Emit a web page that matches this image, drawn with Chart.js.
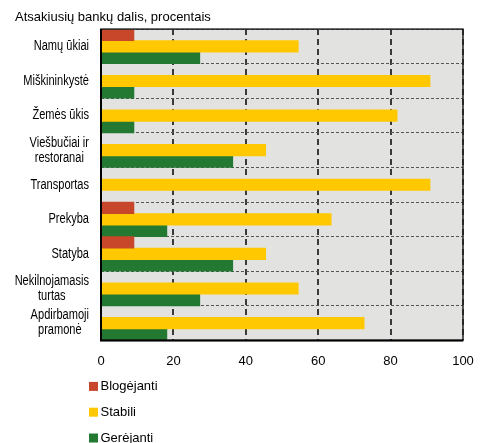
<!DOCTYPE html>
<html lang="lt">
<head>
<meta charset="utf-8">
<title>Atsakiusių bankų dalis</title>
<script src="https://cdn.jsdelivr.net/npm/chart.js@4"></script>
<style>
    html, body { margin: 0; padding: 0; background: #fff; }
    #wrap { width: 482px; height: 443px; }
</style>
</head>
<body>
<div id="wrap"><canvas id="sector-chart" width="482" height="443"></canvas></div>
<script>
// Sectors, top to bottom
const sectors = [
    'Namų ūkiai',
    'Miškininkystė',
    'Žemės ūkis',
    ['Viešbučiai ir', 'restoranai'],
    'Transportas',
    'Prekyba',
    'Statyba',
    ['Nekilnojamasis', 'turtas'],
    ['Apdirbamoji', 'pramonė']
];

// Share of responding banks, %
const worsening = [9.1, 0, 0, 0, 0, 9.1, 9.1, 0, 0];
const stable = [54.5, 90.9, 81.8, 45.5, 90.9, 63.6, 45.5, 54.5, 72.7];
const improving = [27.3, 9.1, 9.1, 36.4, 0, 18.2, 36.4, 27.3, 18.2];

const xTicks = [0, 20, 40, 60, 80, 100];

const FONT = "'Liberation Sans', Arial, sans-serif";

// Grey plot background
const plotBackground = {
    id: 'plotBackground',
    beforeDraw(chart) {
        const {ctx, chartArea: a} = chart;
        ctx.save();
        ctx.fillStyle = '#e2e3e1';
        ctx.fillRect(a.left, a.top, a.width, a.height);
        ctx.restore();
    }
};

// Frame around the plot area
const plotFrame = {
    id: 'plotFrame',
    afterDatasetsDraw(chart) {
        const {ctx, chartArea: a} = chart;
        ctx.save();
        ctx.strokeStyle = '#222';
        ctx.lineWidth = 1.5;
        ctx.strokeRect(a.left, a.top, a.width, a.height);
        ctx.strokeStyle = '#000';
        ctx.lineWidth = 2;
        ctx.beginPath();
        ctx.moveTo(a.left, a.top);
        ctx.lineTo(a.left, a.bottom);
        ctx.lineTo(a.right, a.bottom);
        ctx.stroke();
        ctx.restore();
    }
};

// Sector names in a condensed face: one-line names right aligned,
// two-line names centred on each other
const sectorLabels = {
    id: 'sectorLabels',
    afterDraw(chart) {
        const {ctx, chartArea, scales: {y}} = chart;
        const squeeze = 0.79;
        const right = (chartArea.left - 12) / squeeze;
        const lineH = 15;
        ctx.save();
        ctx.scale(squeeze, 1);
        ctx.font = '14px ' + FONT;
        ctx.fillStyle = '#000';
        ctx.textAlign = 'center';
        ctx.textBaseline = 'middle';
        chart.data.labels.forEach((label, i) => {
            const lines = [].concat(label);
            const widest = Math.max(...lines.map(l => ctx.measureText(l).width));
            const cx = right - widest / 2;
            const cy = y.getPixelForValue(i);
            lines.forEach((line, j) => {
                ctx.fillText(line, cx, cy + (j - (lines.length - 1) / 2) * lineH);
            });
        });
        ctx.restore();
    }
};

// Vertical legend under the x axis
const stackedLegend = {
    id: 'stackedLegend',
    afterDraw(chart) {
        const {ctx, chartArea} = chart;
        const x = chartArea.left - 12;
        ctx.save();
        ctx.font = '13px ' + FONT;
        ctx.textAlign = 'left';
        ctx.textBaseline = 'middle';
        chart.data.datasets.forEach((ds, i) => {
            const cy = chartArea.bottom + 46 + i * 25.8;
            ctx.fillStyle = ds.backgroundColor;
            ctx.fillRect(x, cy - 4.5, 9, 9);
            ctx.fillStyle = '#000';
            ctx.fillText(ds.label, x + 11.5, cy);
        });
        ctx.restore();
    }
};

const ctx = document.getElementById('sector-chart').getContext('2d');

new Chart(ctx, {
    type: 'bar',
    data: {
        labels: sectors,
        datasets: [
            { label: 'Blogėjanti', data: worsening, backgroundColor: '#c8472b' },
            { label: 'Stabili', data: stable, backgroundColor: '#ffc800' },
            { label: 'Gerėjanti', data: improving, backgroundColor: '#237832' }
        ]
    },
    options: {
        indexAxis: 'y',
        responsive: false,
        animation: false,
        layout: { padding: { left: 15, right: 19, top: 0, bottom: 61 } },
        datasets: {
            bar: { categoryPercentage: 1, barPercentage: 1, borderWidth: 0 }
        },
        scales: {
            x: {
                min: 0,
                max: 100,
                afterBuildTicks(scale) {
                    scale.ticks = xTicks.map(v => ({ value: v }));
                },
                // the "100" label may hang past the plot edge
                afterFit(scale) {
                    scale.paddingLeft = 0;
                    scale.paddingRight = 0;
                },
                grid: { color: '#3a3a3a', lineWidth: 2, drawTicks: false },
                border: { display: false, dash: [6, 4] },
                ticks: {
                    padding: 13,
                    color: '#000',
                    font: { family: FONT, size: 13 }
                }
            },
            y: {
                afterFit(scale) { scale.width = 86; },
                grid: { color: '#555', lineWidth: 1, drawTicks: false, offset: true },
                border: { display: false, dash: [3, 2] },
                ticks: { display: false }
            }
        },
        plugins: {
            legend: { display: false },
            tooltip: { enabled: false },
            title: {
                display: true,
                text: 'Atsakiusių bankų dalis, procentais',
                align: 'start',
                color: '#000',
                font: { family: FONT, size: 13, weight: 'normal' },
                padding: { top: 10, bottom: 3.5 }
            }
        }
    },
    plugins: [plotBackground, plotFrame, sectorLabels, stackedLegend]
});
</script>
</body>
</html>
